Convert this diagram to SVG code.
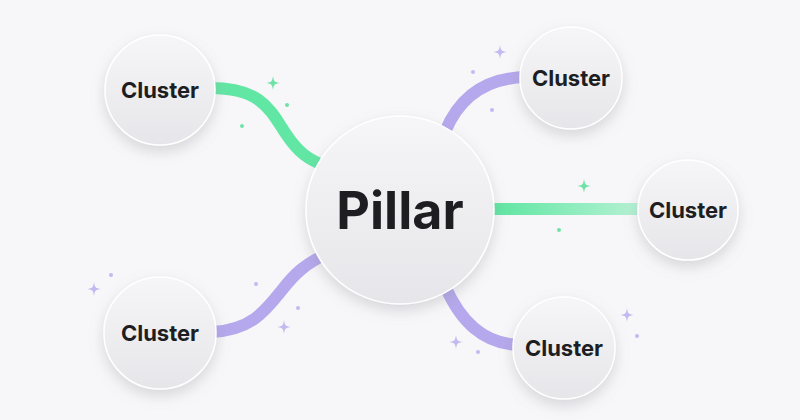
<svg xmlns="http://www.w3.org/2000/svg" width="800" height="420" viewBox="0 0 800 420">
<defs>
<linearGradient id="nodeFill" x1="0" y1="0" x2="0" y2="1">
<stop offset="0" stop-color="#f6f6f8"/>
<stop offset="1" stop-color="#e6e6ea"/>
</linearGradient>
<linearGradient id="greenFade" x1="494" y1="0" x2="640" y2="0" gradientUnits="userSpaceOnUse">
<stop offset="0" stop-color="#5fe6a2"/>
<stop offset="1" stop-color="#b6f1d4"/>
</linearGradient>
<filter id="shadow" x="-40%" y="-40%" width="180%" height="180%">
<feDropShadow dx="0" dy="6" stdDeviation="7" flood-color="#8a8a99" flood-opacity="0.3"/>
</filter>
<path id="star" d="M0,-7 C0.8,-1.5 1.5,-0.8 7,0 C1.5,0.8 0.8,1.5 0,7 C-0.8,1.5 -1.5,0.8 -7,0 C-1.5,-0.8 -0.8,-1.5 0,-7 Z"/>
</defs>
<style>
.bg{fill:#f7f7f9}
.node{fill:url(#nodeFill);stroke:#ffffff;stroke-width:1.5;filter:url(#shadow)}
.edge{fill:none;stroke-width:12;stroke-linecap:butt}
.g{stroke:#62e6a4}
.p{stroke:#b5a8ec}
.sg{fill:#6ee3a8}
.sp{fill:#c4b9f0}
.lbl{font-family:Inter,"Liberation Sans",Arial,sans-serif;font-weight:700;fill:#1d1d22;text-anchor:middle;dominant-baseline:central}
</style>
<rect class="bg" x="0" y="0" width="800" height="420"/>
<g id="decor">
<use href="#star" class="sg" x="273" y="83"/>
<circle class="sg" cx="287" cy="105" r="2"/>
<circle class="sg" cx="242" cy="126" r="2"/>
<use href="#star" class="sp" x="500" y="52"/>
<circle class="sp" cx="473" cy="72" r="2"/>
<circle class="sp" cx="492" cy="110" r="2"/>
<use href="#star" class="sg" x="584" y="186"/>
<circle class="sg" cx="559" cy="230" r="2"/>
<use href="#star" class="sp" x="94" y="289"/>
<circle class="sp" cx="111" cy="275" r="2"/>
<circle class="sp" cx="256" cy="284" r="2"/>
<circle class="sp" cx="298" cy="308" r="2"/>
<use href="#star" class="sp" x="284" y="327"/>
<use href="#star" class="sp" x="456" y="342"/>
<circle class="sp" cx="478" cy="352" r="2"/>
<use href="#star" class="sp" x="627" y="315"/>
<circle class="sp" cx="637" cy="336" r="2"/>
</g>
<g id="connectors">
<path class="edge g" d="M210 88 C262 88 270 110 286 134 C298 152 308 160 328 167"/>
<path class="edge p" d="M445 132 C458 100 482 78 526 77"/>
<path class="edge" stroke="url(#greenFade)" d="M490 209 L642 209"/>
<path class="edge p" d="M212 332 C252 330 266 310 282 290 C296 272 306 264 326 254"/>
<path class="edge p" d="M445 286 C460 320 482 344 520 345"/>
</g>
<g id="pillar">
<circle class="node" cx="400" cy="210" r="94"/>
<text class="lbl" x="400" y="210" font-size="52">Pillar</text>
</g>
<g id="cluster-tl">
<circle class="node" cx="160" cy="90" r="55"/>
<text class="lbl" x="160" y="90" font-size="22">Cluster</text>
</g>
<g id="cluster-tr">
<circle class="node" cx="571" cy="78" r="51"/>
<text class="lbl" x="571" y="78" font-size="22">Cluster</text>
</g>
<g id="cluster-r">
<circle class="node" cx="688" cy="210" r="50"/>
<text class="lbl" x="688" y="210" font-size="22">Cluster</text>
</g>
<g id="cluster-bl">
<circle class="node" cx="160" cy="333" r="56"/>
<text class="lbl" x="160" y="333" font-size="22">Cluster</text>
</g>
<g id="cluster-br">
<circle class="node" cx="564" cy="348" r="51"/>
<text class="lbl" x="564" y="348" font-size="22">Cluster</text>
</g>
</svg>
